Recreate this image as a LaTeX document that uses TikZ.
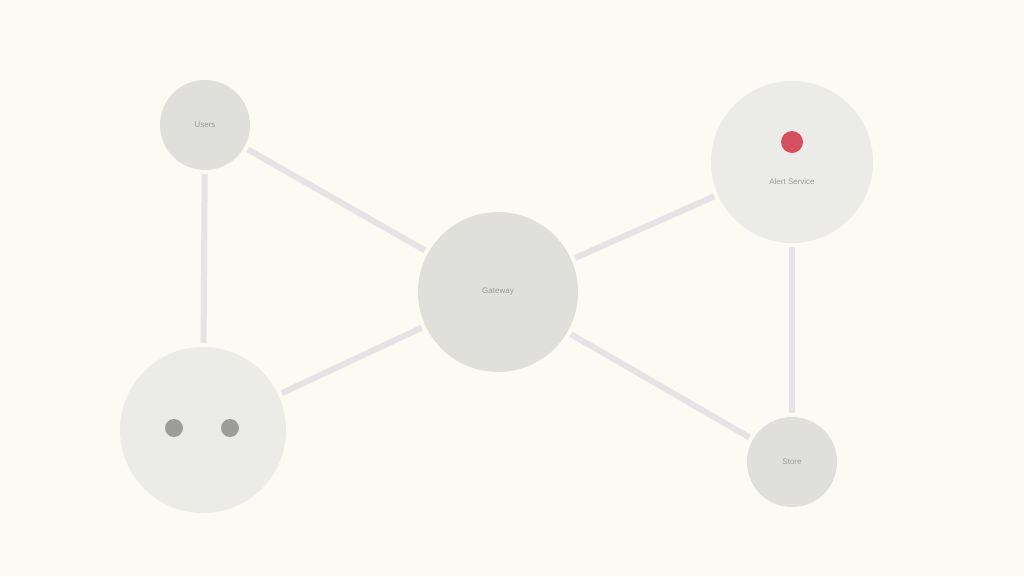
\documentclass[tikz,border=0pt]{standalone}
\usepackage{fontspec}
\setmainfont{Liberation Sans}
\definecolor{bg}{HTML}{FBFBF4}
\definecolor{edgec}{HTML}{E5E3E5}
\definecolor{nodea}{HTML}{DFDFDB}
\definecolor{nodel}{HTML}{EBEBE7}
\definecolor{txt}{HTML}{9A9A98}
\definecolor{reddot}{HTML}{D4505E}
\definecolor{greydot}{HTML}{9C9C9A}
\begin{document}
\begin{tikzpicture}[x=1pt,y=-1pt,
  lbl/.style={font=\fontsize{8}{9}\selectfont,text=txt},
  hub/.style={circle,fill=nodea,inner sep=0pt,minimum size=#1,lbl},
  hubl/.style={circle,fill=nodel,inner sep=0pt,minimum size=#1,lbl},
  link/.style={draw=edgec,line width=6pt,shorten <=4pt,shorten >=4pt},
  dot/.style={circle,inner sep=0pt,minimum size=#1}]
\fill[bg] (0,0) rectangle (1024,576);
\useasboundingbox (0,0) rectangle (1024,576);
% nodes
\node[hub=90pt] (A) at (205,125) {Users};
\node[hubl=162pt] (B) at (792,162) {};
\node[hub=160pt] (C) at (498,292) {Gateway};
\node[hub=90pt] (D) at (792,462) {Store};
\node[hubl=166pt] (E) at (203,430) {};
% edges
\draw[link] (A) -- (C);
\draw[link] (A) -- (E);
\draw[link] (C) -- (B);
\draw[link] (C) -- (D);
\draw[link] (E) -- (C);
\draw[link] (B) -- (D);
% details
\node[dot=22pt,fill=reddot] (r) at (792,142) {};
\node[lbl] (bl) at (792,182) {Alert Service};
\node[dot=18pt,fill=greydot] (g1) at (174,428) {};
\node[dot=18pt,fill=greydot] (g2) at (230,428) {};
\end{tikzpicture}
\end{document}
